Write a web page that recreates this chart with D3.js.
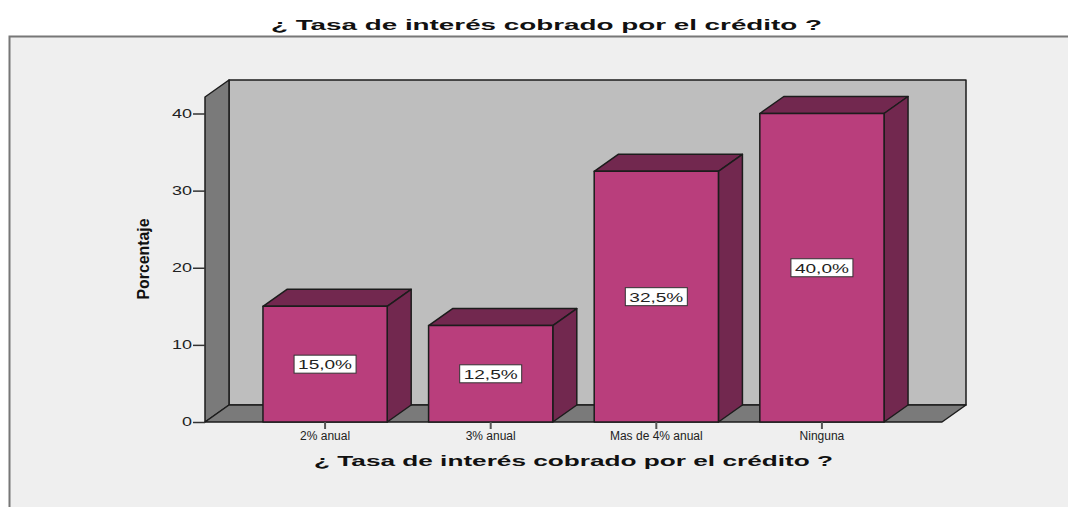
<!DOCTYPE html>
<html>
<head>
<meta charset="utf-8">
<script src="https://cdn.jsdelivr.net/npm/d3@7"></script>
<style>
  html, body { margin: 0; padding: 0; background: #fff; }
  svg { display: block; }
  text { font-family: "Liberation Sans", Arial, sans-serif; fill: #222; }
</style>
</head>
<body>
<svg></svg>
<script>
const categories = ['2% anual', '3% anual', 'Mas de 4% anual', 'Ninguna'];
const percentages = [15.0, 12.5, 32.5, 40.0];
const valueLabels = ['15,0%', '12,5%', '32,5%', '40,0%'];
const yTicks = [0, 10, 20, 30, 40];
const chartTitle = '¿ Tasa de interés cobrado por el crédito ?';
const yTitle = 'Porcentaje';

const width = 1068;
const height = 507;

// 3D offset of the box
const depthX = 24;
const depthY = 17;

const svg = d3.select('svg')
    .attr('width', width)
    .attr('height', height)
    .attr('viewBox', [0, 0, width, height]);

const x = d3.scaleBand()
    .domain(categories)
    .range([205, 942])
    .paddingInner(0.25)
    .paddingOuter(0.35);

const y = d3.scaleLinear()
    .domain([0, 40])
    .range([422, 113.5]);

const line = d3.line();

function poly(g, points, fill) {
    g.append('path')
        .attr('d', line(points) + 'Z')
        .attr('fill', fill)
        .attr('stroke', '#1c1c1c')
        .attr('stroke-width', 1.5)
        .attr('stroke-linejoin', 'round');
}

// Outer frame, only top and left have a line
svg.append('rect')
    .attr('x', 9).attr('y', 36)
    .attr('width', width - 9).attr('height', height - 36)
    .attr('fill', '#efefef');
svg.append('path')
    .attr('d', `M9.5,${height}V36.5H${width}`)
    .attr('fill', 'none')
    .attr('stroke', '#777')
    .attr('stroke-width', 2);

// Walls and floor
const left = x.range()[0];
const right = x.range()[1];
const base = y(0);
const top3d = 97;

const walls = svg.append('g');
poly(walls, [[left + depthX, top3d - depthY], [right + depthX, top3d - depthY], [right + depthX, base - depthY], [left + depthX, base - depthY]], '#bebebe');
poly(walls, [[left, top3d], [left + depthX, top3d - depthY], [left + depthX, base - depthY], [left, base]], '#7a7a7a');
poly(walls, [[left, base], [left + depthX, base - depthY], [right + depthX, base - depthY], [right, base]], '#7a7a7a');

// Bars
const bars = svg.selectAll('g.bar')
    .data(categories.map((c, i) => ({ category: c, value: percentages[i], label: valueLabels[i] })))
    .enter()
    .append('g')
    .attr('class', 'bar');

bars.each(function(d) {
    const g = d3.select(this);
    const x0 = x(d.category);
    const x1 = x0 + x.bandwidth();
    const yTop = y(d.value);
    poly(g, [[x0, yTop], [x0 + depthX, yTop - depthY], [x1 + depthX, yTop - depthY], [x1, yTop]], '#72284f');
    poly(g, [[x1, yTop], [x1 + depthX, yTop - depthY], [x1 + depthX, base - depthY], [x1, base]], '#72284f');
    poly(g, [[x0, yTop], [x1, yTop], [x1, base], [x0, base]], '#b93e7c');

    const cx = (x0 + x1) / 2;
    const cy = (yTop + base) / 2;
    g.append('rect')
        .attr('x', cx - 31).attr('y', cy - 9)
        .attr('width', 62).attr('height', 18)
        .attr('fill', '#fff')
        .attr('stroke', '#333')
        .attr('stroke-width', 1);
    g.append('text')
        .attr('x', cx).attr('y', cy + 5)
        .attr('text-anchor', 'middle')
        .attr('font-size', 13)
        .attr('textLength', 54)
        .attr('lengthAdjust', 'spacingAndGlyphs')
        .text(d.label);
});

// Y axis
const yAxis = svg.append('g')
    .attr('transform', `translate(${left},0)`)
    .call(d3.axisLeft(y).tickValues(yTicks).tickSize(12).tickPadding(1).tickFormat(d3.format('d')));
yAxis.select('.domain').remove();
yAxis.selectAll('line').attr('stroke', '#333').attr('stroke-width', 1.5);
yAxis.selectAll('text')
    .attr('font-size', 12)
    .attr('font-family', '"Liberation Sans", Arial, sans-serif')
    .attr('textLength', d => d === 0 ? 10 : 20)
    .attr('lengthAdjust', 'spacingAndGlyphs')
    .attr('fill', '#222');

// X axis
const xAxis = svg.append('g')
    .attr('transform', `translate(0,${base})`)
    .call(d3.axisBottom(x).tickSize(7).tickPadding(2));
xAxis.select('.domain').remove();
xAxis.selectAll('line').attr('stroke', '#555').attr('stroke-width', 2);
xAxis.selectAll('text')
    .attr('font-size', 12)
    .attr('font-family', '"Liberation Sans", Arial, sans-serif')
    .attr('fill', '#222');

// Titles
svg.append('text')
    .attr('x', 546.5).attr('y', 30)
    .attr('text-anchor', 'middle')
    .attr('font-size', 15)
    .attr('font-weight', 'bold')
    .attr('textLength', 551)
    .attr('lengthAdjust', 'spacingAndGlyphs')
    .style('fill', '#111')
    .text(chartTitle);

svg.append('text')
    .attr('x', 573.5).attr('y', 466)
    .attr('text-anchor', 'middle')
    .attr('font-size', 15)
    .attr('font-weight', 'bold')
    .attr('textLength', 519)
    .attr('lengthAdjust', 'spacingAndGlyphs')
    .style('fill', '#111')
    .text(chartTitle);

svg.append('text')
    .attr('transform', 'translate(149,259) rotate(-90)')
    .attr('text-anchor', 'middle')
    .attr('font-size', 17)
    .attr('font-weight', 'bold')
    .attr('textLength', 81)
    .attr('lengthAdjust', 'spacingAndGlyphs')
    .style('fill', '#111')
    .text(yTitle);
</script>
</body>
</html>
